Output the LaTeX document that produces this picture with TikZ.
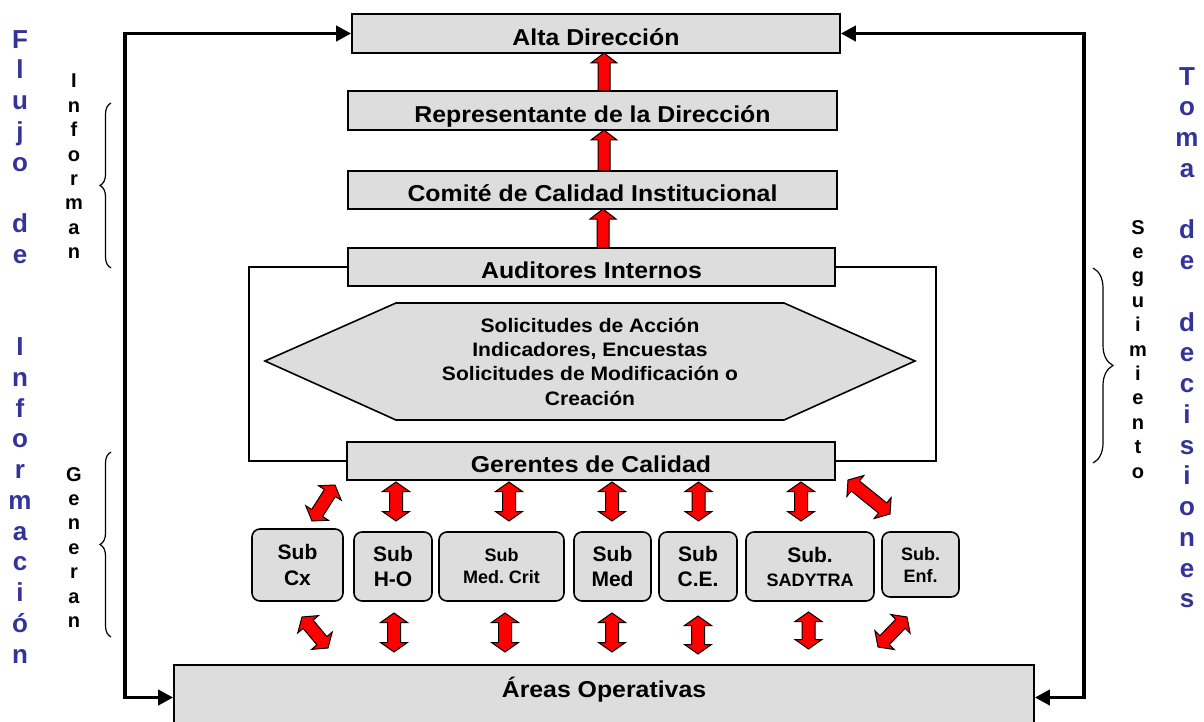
\documentclass[tikz,border=0pt]{standalone}
\usepackage{fontspec}
\setmainfont{Liberation Sans}
\newfontfamily\lblfont[FakeStretch=1.08]{Liberation Sans}
\usetikzlibrary{calc,arrows.meta,decorations.pathreplacing}
\definecolor{boxgray}{HTML}{DDDDDD}
\definecolor{flowblue}{HTML}{333399}
\frenchspacing
% single block arrow: #1 tail, #2 tip
\newcommand\redsingle[2]{%
  \filldraw[redarr] (#2) -- ($(#2)!10pt!(#1)!13pt!90:(#1)$) -- ($(#2)!10pt!(#1)!6pt!90:(#1)$)
   -- ($(#1)!6pt!-90:(#2)$) -- ($(#1)!6pt!90:(#2)$)
   -- ($(#2)!10pt!(#1)!6pt!-90:(#1)$) -- ($(#2)!10pt!(#1)!13pt!-90:(#1)$) -- cycle;}
% double block arrow between #1 and #2
\newcommand\reddouble[2]{%
  \filldraw[redarr] (#1) -- ($(#1)!9.5pt!(#2)!13.5pt!90:(#2)$) -- ($(#1)!9.5pt!(#2)!6.5pt!90:(#2)$)
   -- ($(#2)!9.5pt!(#1)!6.5pt!-90:(#1)$) -- ($(#2)!9.5pt!(#1)!13.5pt!-90:(#1)$)
   -- (#2) -- ($(#2)!9.5pt!(#1)!13.5pt!90:(#1)$) -- ($(#2)!9.5pt!(#1)!6.5pt!90:(#1)$)
   -- ($(#1)!9.5pt!(#2)!6.5pt!-90:(#2)$) -- ($(#1)!9.5pt!(#2)!13.5pt!-90:(#2)$) -- cycle;}
\begin{document}
\begin{tikzpicture}[x=1pt,y=-1pt,
  mainbox/.style={draw, fill=boxgray, line width=1.6pt, inner sep=0pt,
    font=\lblfont\bfseries\fontsize{23}{27}\selectfont, text height=23.4pt, text depth=0pt},
  subbox/.style={draw, fill=boxgray, line width=1.6pt, rounded corners=8pt, inner sep=0pt, align=center},
  subA/.style={font=\bfseries\fontsize{21}{25.5}\selectfont},
  subB/.style={font=\bfseries\fontsize{18}{22}\selectfont},
  redarr/.style={fill=red, draw=black, line width=1pt, line join=miter},
  bigconn/.style={line width=3.8pt, {Triangle[length=15pt,width=15pt]}-{Triangle[length=15pt,width=15pt]}},
  frameline/.style={line width=1.3pt},
  bluevert/.style={anchor=north, inner sep=0pt, align=center, text=flowblue,
    font=\bfseries\fontsize{26}{30.75}\selectfont},
  blackvert/.style={anchor=north, inner sep=0pt, align=center,
    font=\bfseries\fontsize{20}{24.4}\selectfont},
  bracedraw/.style={line width=1.2pt, decorate},
]
\useasboundingbox (0,0) rectangle (1204,722);

% ---- boxes
\node[mainbox, minimum width=488, minimum height=39] (alta) at (596,33.5) {Alta Dirección};
\node[mainbox, minimum width=489, minimum height=39] (rep) at (592.5,110.5) {Representante de la Dirección};
\node[mainbox, minimum width=489, minimum height=38] (com) at (592.5,190) {Comité de Calidad Institucional};

% frame around the hexagon (behind boxes)
\coordinate (audw) at (348,267);
\coordinate (aude) at (835,267);
\coordinate (gerw) at (347,461);
\coordinate (gere) at (835,461);
\draw[frameline] (audw) -- (249,267) |- (gerw);
\draw[frameline] (aude) -- (936,267) |- (gere);

\node[mainbox, minimum width=487, minimum height=38] (aud) at (591.5,267) {Auditores Internos};
\node[mainbox, minimum width=488, minimum height=38] (ger) at (591,461) {Gerentes de Calidad};
\node[mainbox, minimum width=860, minimum height=65, text height=10pt, text depth=10.6pt] (areas) at (604,697.5) {Áreas Operativas};

% hexagon
\filldraw[fill=boxgray, line width=1.6pt] (265,361) -- (396,303) -- (784,303) -- (915,361) -- (784,420) -- (396,420) -- cycle;
\node[align=center, inner sep=0pt, font=\lblfont\bfseries\fontsize{19.5}{24.3}\selectfont] (hex) at (590,361.5)
  {Solicitudes de Acción\\Indicadores, Encuestas\\Solicitudes de Modificación o\\Creación};

% sub boxes
\node[subbox, subA, minimum width=91, minimum height=72] (subcx) at (297.5,565) {Sub\\Cx};
\node[subbox, subA, minimum width=78, minimum height=69] (subho) at (393,566.5) {Sub\\H-O};
\node[subbox, subB, minimum width=125, minimum height=69] (submc) at (501.5,566.5) {Sub\\Med. Crit};
\node[subbox, subA, minimum width=77, minimum height=69] (submed) at (612.5,566.5) {Sub\\Med};
\node[subbox, subA, minimum width=78, minimum height=69] (subce) at (698,566.5) {Sub\\C.E.};
\node[subbox, font=\bfseries\fontsize{21}{24}\selectfont, minimum width=128, minimum height=69] (subsad) at (810,566.5) {Sub.\\{\fontsize{18}{22}\selectfont SADYTRA}};
\node[subbox, subB, minimum width=77, minimum height=65] (subenf) at (920.5,564.5) {Sub.\\Enf.};

% ---- big black connectors
\draw[bigconn] (alta.west) -- ++(-226,0) |- (areas.west);
\draw[bigconn] (alta.east) -- ++(243,0) |- (areas.east);

% ---- red arrows up the hierarchy
\coordinate (u1t) at (604,91);  \coordinate (u1h) at (604,53);
\coordinate (u2t) at (604,171); \coordinate (u2h) at (604,130);
\coordinate (u3t) at (603,248); \coordinate (u3h) at (603,209);
\redsingle{u1t}{u1h}
\redsingle{u2t}{u2h}
\redsingle{u3t}{u3h}

% ---- double arrows Gerentes <-> subs
\coordinate (a1) at (312,521);   \coordinate (b1) at (335,485);
\coordinate (a2) at (396,482);   \coordinate (b2) at (396,521);
\coordinate (a3) at (509,482);   \coordinate (b3) at (509,521);
\coordinate (a4) at (612,482);   \coordinate (b4) at (612,521);
\coordinate (a5) at (698.5,482); \coordinate (b5) at (698.5,521);
\coordinate (a6) at (801,482);   \coordinate (b6) at (801,521);
\coordinate (a7) at (848,480);   \coordinate (b7) at (890,514);
\reddouble{a1}{b1}
\reddouble{a2}{b2}
\reddouble{a3}{b3}
\reddouble{a4}{b4}
\reddouble{a5}{b5}
\reddouble{a6}{b6}
\reddouble{a7}{b7}

% ---- double arrows subs <-> Areas
\coordinate (c1) at (302,617);   \coordinate (d1) at (328,648);
\coordinate (c2) at (394,613);   \coordinate (d2) at (394,652);
\coordinate (c3) at (505,613);   \coordinate (d3) at (505,652);
\coordinate (c4) at (612,613);   \coordinate (d4) at (612,652);
\coordinate (c5) at (698,616);   \coordinate (d5) at (698,654);
\coordinate (c6) at (808.5,612); \coordinate (d6) at (808.5,649);
\coordinate (c7) at (878,647);   \coordinate (d7) at (907,617);
\reddouble{c1}{d1}
\reddouble{c2}{d2}
\reddouble{c3}{d3}
\reddouble{c4}{d4}
\reddouble{c5}{d5}
\reddouble{c6}{d6}
\reddouble{c7}{d7}

% ---- vertical texts
\node[bluevert] (flujo) at (20,30) {F\\l\\u\\j\\o\\\mbox{}\\d\\e\\\mbox{}\\\mbox{}\\I\\n\\f\\o\\r\\m\\a\\c\\i\\ó\\n};
\node[bluevert] (toma) at (1187,67) {T\\o\\m\\a\\\mbox{}\\d\\e\\\mbox{}\\d\\e\\c\\i\\s\\i\\o\\n\\e\\s};
\node[blackvert] (informan) at (74,74) {I\\n\\f\\o\\r\\m\\a\\n};
\node[blackvert] (generan) at (74,467) {G\\e\\n\\e\\r\\a\\n};
\node[blackvert] (segui) at (1138,220) {S\\e\\g\\u\\i\\m\\i\\e\\n\\t\\o};

% ---- braces
\coordinate (br1a) at (111,268); \coordinate (br1b) at (111,103);
\coordinate (br2a) at (111,637); \coordinate (br2b) at (111,452);
\coordinate (br3a) at (1093,268); \coordinate (br3b) at (1093,463);
\draw[bracedraw, decoration={brace, amplitude=11pt}] (br1a) -- (br1b);
\draw[bracedraw, decoration={brace, amplitude=11pt}] (br2a) -- (br2b);
\draw[bracedraw, decoration={brace, amplitude=20pt}] (br3a) -- (br3b);
\end{tikzpicture}
\end{document}
